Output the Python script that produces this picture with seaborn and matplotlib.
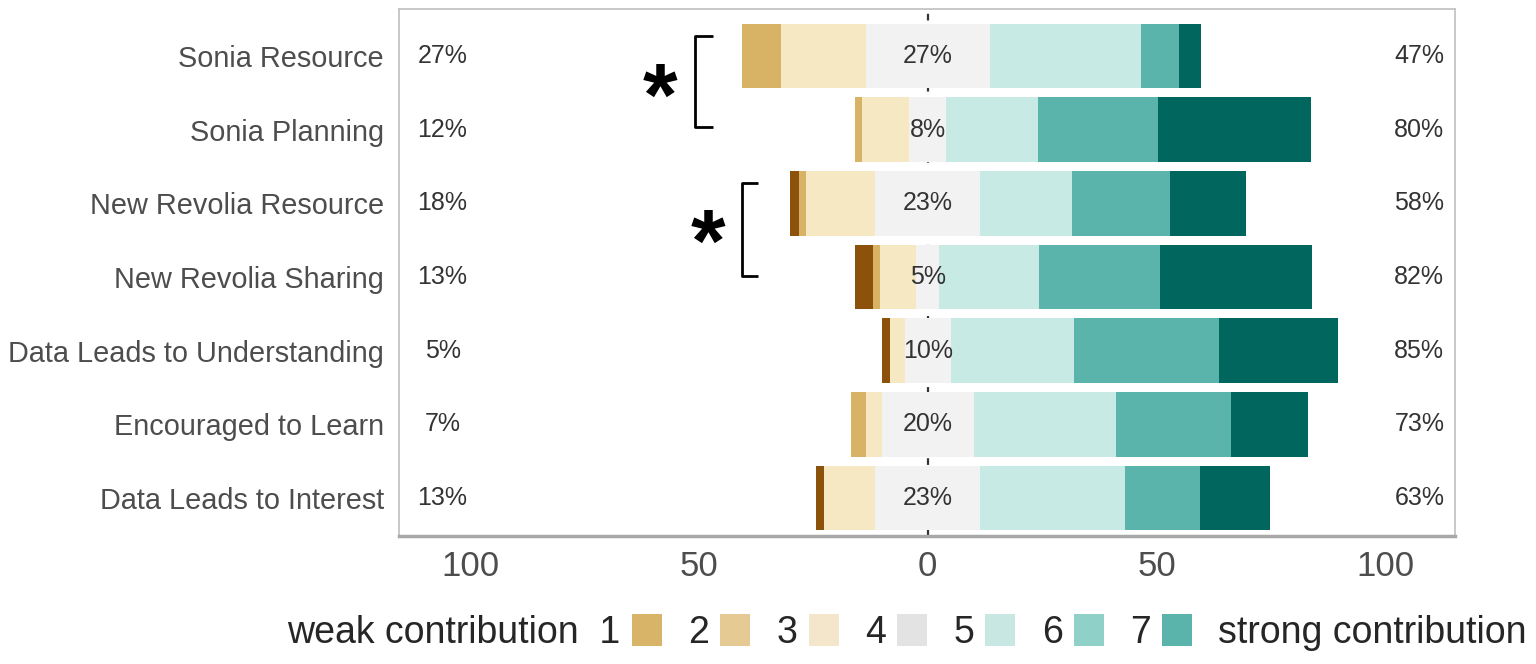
import numpy as np
import pandas as pd
import seaborn as sns
import matplotlib.pyplot as plt
from matplotlib.patches import Patch

# survey items, top to bottom
items = ["Sonia Resource", "Sonia Planning", "New Revolia Resource",
         "New Revolia Sharing", "Data Leads to Understanding",
         "Encouraged to Learn", "Data Leads to Interest"]

# share of answers (%) for each point of the 1..7 scale
s1 = [0.0, 0.0, 2.0, 4.0, 1.7, 0.0, 1.8]
s2 = [8.5, 1.7, 1.5, 1.5, 0.0, 3.3, 0.0]
s3 = [18.5, 10.3, 15.2, 8.0, 3.3, 3.5, 11.2]
s4 = [27.0, 8.0, 23.0, 5.0, 10.0, 20.0, 23.0]
s5 = [33.1, 20.0, 20.0, 21.8, 26.9, 31.2, 31.5]
s6 = [8.2, 26.4, 21.4, 26.4, 31.7, 25.1, 16.5]
s7 = [5.0, 33.4, 16.6, 33.2, 26.1, 16.8, 15.3]

# printed percentages
left_lab = ["27%", "12%", "18%", "13%", "5%", "7%", "13%"]
mid_lab = ["27%", "8%", "23%", "5%", "10%", "20%", "23%"]
right_lab = ["47%", "80%", "58%", "82%", "85%", "73%", "63%"]

scale_labels = ["1", "2", "3", "4", "5", "6", "7"]
bar_colors = ["#8C510A", "#D8B365", "#F6E8C3", "#F2F2F2", "#C7EAE5", "#5AB4AC", "#01665E"]
legend_colors = ["#D8B468", "#E6CA94", "#F3E6CA", "#E3E3E3", "#C8E7E3", "#8FD0C8", "#5AB4AC"]

sns.set_theme(style="white")
plt.rcParams["font.family"] = ["Liberation Sans", "DejaVu Sans"]

half = np.array(s4) / 2
e3 = -(half + np.array(s3))
e2 = e3 - np.array(s2)
e1 = e2 - np.array(s1)
p5 = half + np.array(s5)
p6 = p5 + np.array(s6)
p7 = p6 + np.array(s7)

df = pd.DataFrame({"item": items, "e1": e1, "e2": e2, "e3": e3, "n_neg": -half,
                   "p7": p7, "p6": p6, "p5": p5, "n_pos": half})

fig = plt.figure(figsize=(15.36, 6.64), dpi=100)
ax = fig.add_axes([0.2598, 0.1928, 0.6875, 0.7937])

ax.axvline(0, color="#333333", ls=(0, (3, 5)), lw=1.6, zorder=0.5)

# bars all start at 0: draw longest first so shorter ones paint over
layers = [("e1", 0), ("e2", 1), ("e3", 2), ("n_neg", 3),
          ("p7", 6), ("p6", 5), ("p5", 4), ("n_pos", 3)]
for col, ci in layers:
    sns.barplot(data=df, x=col, y="item", order=items, orient="h",
                color=bar_colors[ci], saturation=1, width=0.88,
                errorbar=None, linewidth=0, ax=ax)

for i in range(len(items)):
    ax.text(-106, i, left_lab[i], ha="center", va="center", fontsize=18, color="#333333")
    ax.text(0, i, mid_lab[i], ha="center", va="center", fontsize=18, color="#333333")
    ax.text(107.4, i, right_lab[i], ha="center", va="center", fontsize=18, color="#333333")

# significance brackets
ax.plot([-47, -50.9, -50.9, -47], [-0.27, -0.27, 0.96, 0.96], color="black", lw=2, solid_capstyle="butt")
ax.plot([-37, -40.6, -40.6, -37], [1.72, 1.72, 2.99, 2.99], color="black", lw=2, solid_capstyle="butt")
ax.text(-58.5, 0.62, "*", ha="center", va="center", fontsize=64, fontweight="bold", color="black")
ax.text(-48, 2.6, "*", ha="center", va="center", fontsize=64, fontweight="bold", color="black")

ax.set_xlim(-115.5, 115.2)
ax.set_ylim(6.516, -0.638)
ax.set_xticks([-100, -50, 0, 50, 100])
ax.set_xticklabels(["100", "50", "0", "50", "100"])
ax.tick_params(axis="x", length=0, pad=10, labelsize=25, labelcolor="#4D4D4D")
ax.tick_params(axis="y", length=0, pad=11, labelsize=20.8, labelcolor="#4D4D4D")
ax.set_xlabel("")
ax.set_ylabel("")
for sp in ax.spines.values():
    sp.set_color("#C4C4C4")
    sp.set_linewidth(1.3)
ax.spines["bottom"].set_color("#A8A8A8")
ax.spines["bottom"].set_linewidth(2.5)

handles = [Patch(facecolor=c, edgecolor="none") for c in legend_colors]
handles.append(Patch(facecolor="none", edgecolor="none"))
labels = ["weak contribution  1"] + scale_labels[1:] + ["strong contribution"]
fig.legend(handles, labels, loc="center", bbox_to_anchor=(0.604, 0.048), ncol=8,
           frameon=False, markerfirst=False, fontsize=27, handlelength=0.8,
           handleheight=0.95, handletextpad=0.3, columnspacing=0.7)

fig.savefig("out.png", dpi=100)
